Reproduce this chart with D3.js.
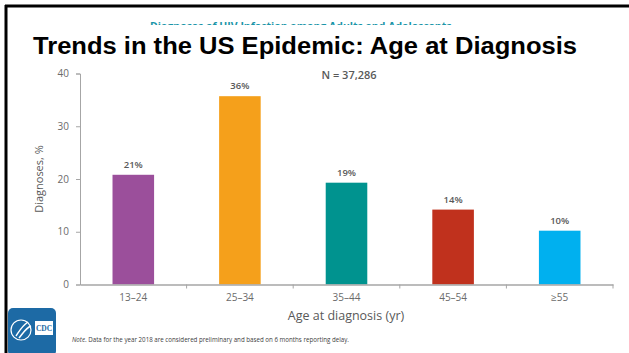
<!DOCTYPE html>
<html>
<head>
<meta charset="utf-8">
<script src="https://cdn.jsdelivr.net/npm/d3@7"></script>
<style>
  body { margin: 0; background: #fff; }
  svg { display: block; }
</style>
</head>
<body>
<svg></svg>
<script>
// data
const ageGroups = ['13\u201324', '25\u201334', '35\u201344', '45\u201354', '\u226555']
const percents = [20.8, 35.7, 19.3, 14.2, 10.2]
const pctLabels = ['21%', '36%', '19%', '14%', '10%']
const barColors = ['#9b4f9b', '#f5a01b', '#00938f', '#c0311d', '#00b0ef']
const yTicks = [0, 10, 20, 30, 40]

const
    svgWidth = 629,
    svgHeight = 353,
    LEFT = 80,
    RIGHT = 613,
    TOP = 73.5,
    BOTTOM = 284.5

const svg = d3.select('svg')
    .attr('width', svgWidth)
    .attr('height', svgHeight)

const x = d3.scaleBand().domain(ageGroups).range([LEFT, RIGHT]).padding(0)
const y = d3.scaleLinear().domain([0, 40]).range([BOTTOM, TOP])

const grey = '#595959'
const font = '"Open Sans", sans-serif'

// slide frame
svg.append('line').attr('x1', 5).attr('x2', 629).attr('y1', 6).attr('y2', 6)
    .attr('stroke', '#000').attr('stroke-width', 3)
svg.append('line').attr('x1', 6).attr('x2', 6).attr('y1', 5).attr('y2', 353)
    .attr('stroke', '#000').attr('stroke-width', 3)

// subtitle peeking out behind the title (only its top edge shows)
svg.append('clipPath').attr('id', 'peek')
    .append('rect').attr('x', 0).attr('y', 0).attr('width', 629).attr('height', 25)
svg.append('text')
    .text('Diagnoses of HIV Infection among Adults and Adolescents')
    .attr('x', 150).attr('y', 30)
    .attr('clip-path', 'url(#peek)')
    .attr('font-family', font).attr('font-size', 10.5).attr('font-weight', 'bold')
    .attr('fill', '#1a95a8')

// title
svg.append('text')
    .text('Trends in the US Epidemic: Age at Diagnosis')
    .attr('x', 33).attr('y', 54)
    .attr('textLength', 544).attr('lengthAdjust', 'spacingAndGlyphs')
    .attr('font-family', '"Liberation Sans", Arial, sans-serif')
    .attr('font-size', 23).attr('font-weight', 'bold')
    .attr('fill', '#000')

// bars
const bw = x.bandwidth()
svg.append('g').selectAll('rect')
    .data(ageGroups)
    .join('rect')
    .attr('x', d => x(d) + bw * 0.305)
    .attr('width', bw * 0.39)
    .attr('y', (d, i) => y(percents[i]))
    .attr('height', (d, i) => y(0) - y(percents[i]))
    .attr('fill', (d, i) => barColors[i])

// value labels
svg.append('g').selectAll('text')
    .data(ageGroups)
    .join('text')
    .text((d, i) => pctLabels[i])
    .attr('x', d => x(d) + bw / 2)
    .attr('y', (d, i) => y(percents[i]) - 7)
    .attr('text-anchor', 'middle')
    .attr('font-family', font).attr('font-size', 9.5).attr('font-weight', 600)
    .attr('fill', grey)

// y axis
const yAxis = svg.append('g')
    .attr('transform', `translate(${LEFT},0)`)
    .call(d3.axisLeft(y).tickValues(yTicks).tickSize(4).tickPadding(7))
yAxis.select('.domain').attr('stroke', '#a6a6a6')
yAxis.selectAll('line').attr('stroke', '#a6a6a6')
yAxis.selectAll('text').attr('fill', '#6b6b6b').attr('font-family', font).attr('font-size', 10)

// x axis: ticks on band boundaries
const xAxis = svg.append('g')
    .attr('transform', `translate(0,${BOTTOM})`)
    .call(d3.axisBottom(x).tickSize(0).tickPadding(9))
xAxis.select('.domain').attr('stroke', '#a6a6a6').attr('stroke-width', 1.5)
xAxis.selectAll('text').attr('fill', '#6b6b6b').attr('font-family', font).attr('font-size', 10)
svg.append('g').selectAll('line')
    .data(ageGroups.slice(1).concat(['end']))
    .join('line')
    .attr('x1', d => d === 'end' ? RIGHT : x(d))
    .attr('x2', d => d === 'end' ? RIGHT : x(d))
    .attr('y1', BOTTOM).attr('y2', BOTTOM + 4)
    .attr('stroke', '#a6a6a6')

// axis titles
svg.append('text')
    .text('Diagnoses, %')
    .attr('transform', `translate(43,${(TOP + BOTTOM) / 2}) rotate(-90)`)
    .attr('text-anchor', 'middle')
    .attr('font-family', font).attr('font-size', 11)
    .attr('fill', grey)

svg.append('text')
    .text('Age at diagnosis (yr)')
    .attr('x', 346).attr('y', 320)
    .attr('text-anchor', 'middle')
    .attr('font-family', font).attr('font-size', 12.5)
    .attr('fill', grey)

svg.append('text')
    .text('N = 37,286')
    .attr('x', 349).attr('y', 79)
    .attr('text-anchor', 'middle')
    .attr('font-family', font).attr('font-size', 11).attr('font-weight', 600)
    .attr('fill', grey)

// footnote
const note = svg.append('text')
    .attr('x', 72).attr('y', 342)
    .attr('font-family', font).attr('font-size', 6.2)
    .attr('fill', '#404040')
note.append('tspan').attr('font-style', 'italic').text('Note')
note.append('tspan').text('. Data for the year 2018 are considered preliminary and based on 6 months reporting delay.')

// CDC logo block
const logo = svg.append('g')
logo.append('rect').attr('x', 8).attr('y', 308).attr('width', 48).attr('height', 48).attr('rx', 5)
    .attr('fill', '#1d6aa5')
logo.append('circle').attr('cx', 21).attr('cy', 330).attr('r', 10)
    .attr('fill', 'none').attr('stroke', '#fff').attr('stroke-width', 1.2)
logo.append('path').attr('d', 'M16,336 C20,330 22,326 28,322 M19,338 C24,332 26,328 31,326')
    .attr('fill', 'none').attr('stroke', '#fff').attr('stroke-width', 1.5)
logo.append('rect').attr('x', 35).attr('y', 321).attr('width', 18).attr('height', 14).attr('fill', '#fff')
logo.append('text').text('CDC')
    .attr('x', 44).attr('y', 331).attr('text-anchor', 'middle')
    .attr('font-family', '"Liberation Serif", serif').attr('font-size', 7.5).attr('font-weight', 'bold')
    .attr('fill', '#1d6aa5')
</script>
</body>
</html>
